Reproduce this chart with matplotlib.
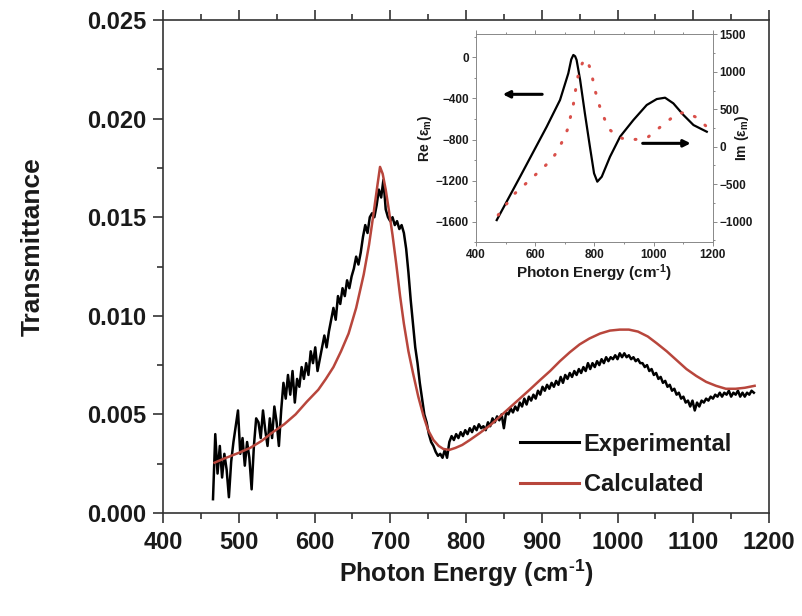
import numpy as np
import matplotlib.pyplot as plt
from matplotlib.ticker import MultipleLocator

plt.rcParams['font.family'] = ['Liberation Sans', 'DejaVu Sans']
plt.rcParams['font.weight'] = 'bold'
plt.rcParams['axes.labelweight'] = 'bold'
plt.rcParams['mathtext.fontset'] = 'custom'
plt.rcParams['mathtext.rm'] = 'Liberation Sans:bold'
plt.rcParams['mathtext.it'] = 'Liberation Sans:bold'
plt.rcParams['mathtext.default'] = 'rm'

# measured transmittance, read every 3 cm^-1 from 466 to 1180 (units of 1e-3)
exp_energy = np.arange(466, 1181, 3)
exp_trans_milli = [
    0.7, 4.0, 2.0, 3.4, 1.8, 3.0, 2.2, 0.8, 2.6, 3.6,
    4.4, 5.2, 3.0, 3.8, 2.4, 3.6, 2.8, 1.2, 3.4, 4.8,
    4.6, 3.8, 5.2, 4.2, 3.4, 4.8, 3.8, 5.4, 4.6, 3.4,
    5.2, 6.6, 5.8, 7.0, 6.0, 7.2, 5.6, 6.8, 6.4, 7.4,
    6.8, 7.6, 7.0, 8.2, 7.6, 8.4, 7.2, 7.8, 8.4, 9.0,
    8.4, 9.2, 9.8, 10.4, 9.8, 11.0, 10.6, 11.4, 11.0, 11.8,
    11.4, 12.0, 12.4, 13.0, 12.6, 13.2, 14.0, 14.6, 14.2, 15.0,
    15.2, 15.0, 15.6, 16.4, 16.0, 16.9, 15.4, 15.0, 14.8, 15.0,
    14.6, 14.8, 14.4, 14.6, 14.2, 13.4, 12.2, 10.8, 9.6, 8.4,
    7.6, 6.6, 5.8, 5.0, 4.6, 4.0, 3.6, 3.4, 3.1, 2.9,
    3.0, 2.8, 3.2, 2.8, 3.6, 3.9, 3.7, 4.0, 3.8, 4.1,
    3.9, 4.2, 4.0, 4.3, 4.1, 4.4, 4.2, 4.5, 4.3, 4.4,
    4.2, 4.6, 4.4, 4.8, 4.6, 4.9, 4.7, 5.0, 4.3, 5.1,
    5.0, 5.3, 5.1, 5.4, 5.2, 5.6, 5.4, 5.8, 5.5, 5.9,
    5.7, 6.0, 5.8, 6.2, 6.0, 6.4, 6.2, 6.5, 6.3, 6.6,
    6.4, 6.7, 6.5, 6.9, 6.6, 7.0, 6.8, 7.1, 6.9, 7.2,
    7.0, 7.3, 7.1, 7.4, 7.2, 7.6, 7.3, 7.6, 7.4, 7.7,
    7.5, 7.8, 7.6, 7.9, 7.7, 7.9, 7.8, 8.0, 7.8, 8.1,
    7.9, 8.1, 7.9, 8.0, 7.8, 7.9, 7.7, 7.8, 7.6, 7.6,
    7.4, 7.5, 7.2, 7.3, 7.0, 7.1, 6.8, 6.9, 6.6, 6.7,
    6.4, 6.5, 6.2, 6.3, 6.0, 6.1, 5.8, 5.9, 5.6, 5.7,
    5.4, 5.7, 5.2, 5.6, 5.4, 5.7, 5.6, 5.8, 5.7, 5.9,
    5.8, 6.0, 5.9, 6.1, 5.9, 6.1, 6.0, 6.2, 5.9, 6.1,
    6.0, 6.2, 5.9, 6.1, 5.9, 6.1, 6.0, 6.2, 6.1,
]
exp_trans = np.array(exp_trans_milli) * 1e-3

# calculated transmittance (units of 1e-3)
calc_energy = [468, 480, 500, 515, 530, 545, 560, 575, 590, 605, 615, 625,
               635, 645, 655, 665, 672, 678, 683, 686.5, 690, 694, 698, 703,
               708, 713, 718, 724, 730, 737, 744, 750, 757, 764, 770, 778,
               786, 795, 805, 818, 832, 845, 858, 871, 884, 898, 911, 924,
               937, 950, 963, 977, 990, 1003, 1015, 1027, 1040, 1052, 1065,
               1078, 1091, 1104, 1117, 1130, 1143, 1156, 1168, 1181]
calc_trans_milli = [2.55, 2.75, 3.05, 3.3, 3.65, 4.1, 4.5, 5.0, 5.65, 6.25,
                    6.8, 7.4, 8.2, 9.1, 10.4, 12.1, 13.6, 15.2, 16.6, 17.55,
                    17.2, 16.4, 15.4, 14.1, 12.6, 11.0, 9.6, 8.2, 7.1, 5.9,
                    4.9, 4.2, 3.7, 3.4, 3.25, 3.2, 3.3, 3.45, 3.7, 4.05, 4.45,
                    4.9, 5.35, 5.8, 6.25, 6.75, 7.2, 7.7, 8.15, 8.55, 8.85,
                    9.1, 9.25, 9.3, 9.3, 9.2, 8.95, 8.6, 8.2, 7.75, 7.3,
                    6.95, 6.65, 6.45, 6.3, 6.3, 6.35, 6.45]
calc_trans = np.array(calc_trans_milli) * 1e-3

# inset: real part of epsilon_m
re_energy = [470, 549, 639, 684, 712, 722, 729, 735, 740, 752, 768, 785, 799,
             810, 825, 853, 887, 932, 977, 1011, 1039, 1067, 1101, 1135, 1168,
             1180]
re_eps = [-1584, -1162, -675, -415, -156, -20, 23, 10, -26, -221, -545, -870,
          -1129, -1210, -1162, -967, -772, -610, -464, -406, -393, -448, -561,
          -659, -707, -724]

# inset: imaginary part of epsilon_m
im_energy = [475, 528, 562, 594, 625, 656, 678, 698, 711, 720, 729, 740, 749,
             763, 774, 788, 802, 819, 847, 878, 912, 943, 983, 1013, 1047,
             1081, 1112, 1144, 1177]
im_eps = [-911, -635, -515, -399, -288, -168, -43, 126, 246, 411, 562, 846,
          1024, 1144, 1166, 1024, 757, 526, 246, 134, 90, 99, 134, 232, 339,
          446, 455, 393, 277]

ink = '#1a1a1a'
red = '#b8463c'
energy_label = r'Photon Energy (cm$^{\text{-}1}$)'

fig = plt.figure(figsize=(8.02, 6.16), dpi=100)
ax = fig.add_axes([163 / 802, 103 / 616, 606 / 802, 493 / 616])

ax.plot(exp_energy, exp_trans, color='black', lw=1.8, label='Experimental')
ax.plot(calc_energy, calc_trans, color=red, lw=1.8, label='Calculated')

ax.set_xlim(400, 1200)
ax.set_ylim(0, 0.025)
ax.xaxis.set_major_locator(MultipleLocator(100))
ax.xaxis.set_minor_locator(MultipleLocator(50))
ax.yaxis.set_major_locator(MultipleLocator(0.005))
ax.yaxis.set_minor_locator(MultipleLocator(0.0025))
ax.yaxis.set_major_formatter(lambda v, p: f'{v:.3f}')
ax.tick_params(which='both', direction='out', top=True, right=False,
               width=1.2, colors='#333333', labelcolor=ink)
ax.tick_params(which='major', length=7, labelsize=17)
ax.tick_params(axis='x', which='major', pad=6)
ax.tick_params(axis='y', which='major', pad=5)
ax.tick_params(which='minor', length=4)
for s in ax.spines.values():
    s.set_linewidth(1.2)
    s.set_color('#333333')

ax.set_xlabel(energy_label, fontsize=18, color=ink)
ax.set_ylabel('Transmittance', fontsize=19, color=ink)
ax.xaxis.set_label_coords(0.5, -0.09)
ax.yaxis.set_label_coords(-0.195, 0.54)

leg = ax.legend(loc='upper left', bbox_to_anchor=(0.589, 0.163), frameon=False,
                fontsize=17, handlelength=2.5, handletextpad=0.2,
                borderpad=0, borderaxespad=0, labelspacing=0.75)
for t in leg.get_texts():
    t.set_color(ink)
for h in leg.get_lines():
    h.set_linewidth(2.2)

# inset
axi = fig.add_axes([476 / 802, (616 - 242.3) / 616, 236.7 / 802, 208 / 616])
axr = axi.twinx()
axi.plot(re_energy, re_eps, color='black', lw=1.6)
axr.plot(im_energy, im_eps, color='#d9504a', lw=2.2, ls=(0, (0.3, 4.2)),
         dash_capstyle='round')

axi.set_xlim(400, 1200)
axi.set_ylim(-1800, 224)
axr.set_ylim(-1275, 1500)
axi.xaxis.set_major_locator(MultipleLocator(200))
axi.xaxis.set_minor_locator(MultipleLocator(100))
axi.yaxis.set_major_locator(MultipleLocator(400))
axi.yaxis.set_minor_locator(MultipleLocator(200))
axr.yaxis.set_major_locator(MultipleLocator(500))
axr.yaxis.set_minor_locator(MultipleLocator(250))
for a in (axi, axr):
    a.tick_params(which='both', direction='out', width=0.6, colors='#777777',
                  labelcolor=ink, labelsize=8.5, pad=2)
    a.tick_params(which='major', length=3)
    a.tick_params(which='minor', length=1.5)
    for s in a.spines.values():
        s.set_linewidth(0.6)
        s.set_color('#888888')
axi.tick_params(which='both', top=True, direction='out')

axi.set_xlabel(energy_label, fontsize=11, color=ink, labelpad=1)
axi.set_ylabel('Re (ε$_m$)', fontsize=10, color=ink, labelpad=1)
axr.set_ylabel('Im (ε$_m$)', fontsize=10, color=ink, labelpad=2,
               rotation=90, va='bottom')
axr.yaxis.set_label_coords(1.16, 0.5)

axi.annotate('', xy=(481, -360), xytext=(633, -360),
             arrowprops=dict(arrowstyle='-|>', lw=2.2, color='black',
                             mutation_scale=10))
axi.annotate('', xy=(1135, -837), xytext=(954, -837),
             arrowprops=dict(arrowstyle='-|>', lw=2.2, color='black',
                             mutation_scale=10))

fig.savefig('out.png', dpi=100, facecolor='white')
